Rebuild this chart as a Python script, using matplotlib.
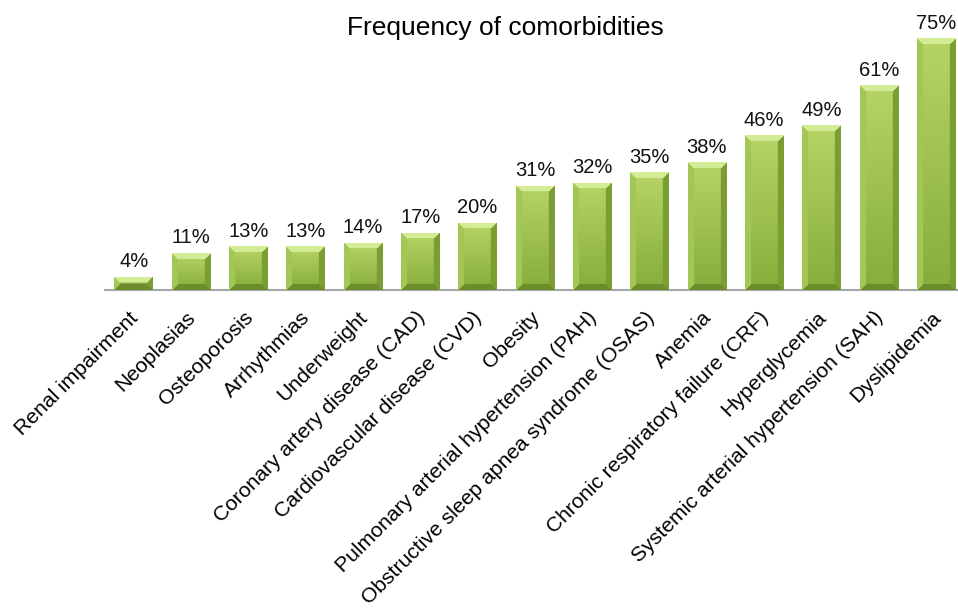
import numpy as np
import matplotlib

matplotlib.use("Agg")
import matplotlib.pyplot as plt
from matplotlib.colors import to_rgb
from matplotlib.transforms import ScaledTranslation

plt.rcParams["font.family"] = ["Liberation Sans", "DejaVu Sans"]

categories = [
    "Renal impairment",
    "Neoplasias",
    "Osteoporosis",
    "Arrhythmias",
    "Underweight",
    "Coronary artery disease (CAD)",
    "Cardiovascular disease (CVD)",
    "Obesity",
    "Pulmonary arterial hypertension (PAH)",
    "Obstructive sleep apnea syndrome (OSAS)",
    "Anemia",
    "Chronic respiratory failure (CRF)",
    "Hyperglycemia",
    "Systemic arterial hypertension (SAH)",
    "Dyslipidemia",
]
values = [4, 11, 13, 13, 14, 17, 20, 31, 32, 35, 38, 46, 49, 61, 75]
title = "Frequency of comorbidities"


def bevel_image(w_px, h_px, bevel=6):
    """RGB array imitating the Office-style bevelled green bar."""
    w_px, h_px = max(w_px, 2), max(h_px, 2)
    top_face = np.array(to_rgb("#b6d566"))
    bot_face = np.array(to_rgb("#86ad3b"))
    c_top = np.array(to_rgb("#d4ec96"))
    c_left = np.array(to_rgb("#a3c755"))
    c_right = np.array(to_rgb("#7b9e34"))
    c_bot = np.array(to_rgb("#6c8d2b"))

    ii, jj = np.mgrid[0:h_px, 0:w_px]
    t = (ii / max(h_px - 1, 1))[..., None]
    img = top_face * (1 - t) + bot_face * t

    dt, db = ii, h_px - 1 - ii
    dl, dr = jj, w_px - 1 - jj
    d = np.stack([dt, dl, dr, db])
    m = d.min(axis=0)
    side = d.argmin(axis=0)
    for k, c in enumerate([c_top, c_left, c_right, c_bot]):
        img[(m < bevel) & (side == k)] = c
    return img


fig = plt.figure(figsize=(9.58, 6.10), dpi=100)
W, H = 958, 610
ax_left, ax_right = 105, 958
ax_bottom, ax_top = 290, 28
ax = fig.add_axes([ax_left / W, 1 - ax_bottom / H,
                   (ax_right - ax_left) / W, (ax_bottom - ax_top) / H])

x = np.arange(len(values))
bars = ax.bar(x, values, width=0.67, color="#8fb83f", zorder=2)

xlim = (-0.5, len(values) - 1 + 0.38)
ylim = (0, 78)
px_per_x = (ax_right - ax_left) / (xlim[1] - xlim[0])
px_per_y = (ax_bottom - ax_top) / (ylim[1] - ylim[0])

for b in bars:
    x0, w, h = b.get_x(), b.get_width(), b.get_height()
    img = bevel_image(int(round(w * px_per_x)), int(round(h * px_per_y)))
    im = ax.imshow(img, extent=(x0, x0 + w, 0, h), aspect="auto",
                   zorder=3, interpolation="bilinear")
    im.set_clip_path(b)

for xi, v in zip(x, values):
    ax.annotate(f"{v}%", (xi, v), xytext=(0, 4), textcoords="offset points",
                ha="center", va="bottom", fontsize=14.5, color="#111111")

ax.set_xlim(*xlim)
ax.set_ylim(*ylim)
ax.set_xticks(x)
ax.set_xticklabels(categories, rotation=45, ha="right", va="top",
                   rotation_mode="anchor", fontsize=15.2)
ax.tick_params(axis="x", length=0, pad=13)
shift = ScaledTranslation(-5 / 100, 0, fig.dpi_scale_trans)
for lbl in ax.get_xticklabels():
    lbl.set_transform(lbl.get_transform() + shift)
ax.set_yticks([])
for s in ["top", "right", "left"]:
    ax.spines[s].set_visible(False)
ax.spines["bottom"].set_color("#a6a6a6")
ax.spines["bottom"].set_linewidth(1.5)

fig.text(505 / W, 1 - 35 / H, title, ha="center", va="baseline", fontsize=19)

fig.savefig("out.png", dpi=100)
